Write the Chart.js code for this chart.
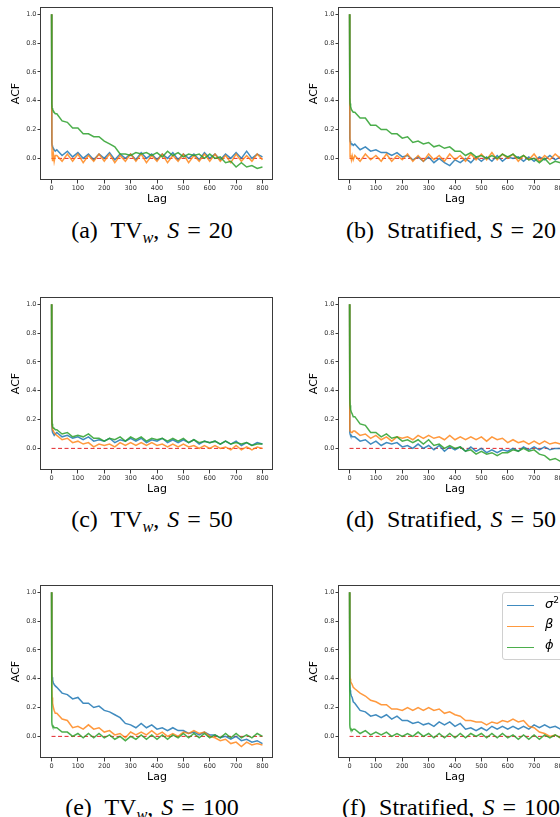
<!DOCTYPE html>
<html>
<head>
<meta charset="utf-8">
<script src="https://cdn.jsdelivr.net/npm/chart.js@4.4.0/dist/chart.umd.min.js"></script>
<style>
  html, body { margin: 0; padding: 0; background: #fff; width: 560px; height: 817px; overflow: hidden; }
  #figure { position: relative; width: 560px; height: 817px; overflow: hidden; }
  .panel { position: absolute; width: 280px; height: 215px; }
  .caption {
    position: absolute; width: 320px; margin-left: -160px; text-align: center;
    font-family: 'Liberation Serif', serif; font-size: 24px; line-height: 26px;
    color: #000; white-space: nowrap; word-spacing: 2px;
  }
  .caption .lbl { margin-right: 5px; }
  .caption sub { font-size: 0.68em; vertical-align: -0.3em; line-height: 0; }
  .legend {
    position: absolute; left: 502px; top: 592px; width: 70px; height: 66px;
    border: 1px solid #d0d0d0; border-radius: 3px; background: rgba(255,255,255,0.85);
    font-family: 'DejaVu Sans', sans-serif; font-style: italic; font-size: 13px;
  }
  .legend .row { position: absolute; left: 4px; height: 14px; width: 70px; }
  .legend .swatch { position: absolute; left: 0; top: 7px; width: 27px; height: 0; border-top: 1.4px solid; }
  .legend .label { position: absolute; left: 38px; top: -3px; }
</style>
</head>
<body>
<div id="figure"></div>
<script>
// ラグ (共通の横軸)
const lags = [0, 1, 2, 4, 7, 10, 14,
  20, 40, 60, 80, 100, 120, 140, 160, 180, 200, 220, 240, 260, 280, 300, 320, 340, 360, 380, 400,
  420, 440, 460, 480, 500, 520, 540, 560, 580, 600, 620, 640, 660, 680, 700, 720, 740, 760, 780, 800];

const xTicks = [0, 100, 200, 300, 400, 500, 600, 700, 800];
const yTicks = [0.0, 0.2, 0.4, 0.6, 0.8, 1.0];

// (a) TV_w, S = 20
const tvw20Sigma = [1.0, 0.11, 0.09, 0.08, 0.07, 0.06, 0.05,
  0.06, 0.02, 0.05, 0.01, 0.04, 0.0, 0.03, -0.01, 0.03, 0.0,
  0.04, -0.01, 0.03, 0.0, 0.03, -0.01, 0.04, 0.0, 0.03, -0.01,
  0.03, 0.0, 0.04, -0.01, 0.03, 0.0, 0.03, -0.01, 0.04, 0.0,
  0.03, -0.01, 0.03, 0.0, 0.04, 0.0, 0.05, 0.0, 0.03, 0.01];
const tvw20Beta = [1.0, 0.37, 0.02, -0.02, 0.03, -0.02, 0.02,
  0.02, -0.02, 0.03, -0.02, 0.03, -0.03, 0.02, -0.02, 0.03, -0.02,
  0.03, -0.03, 0.02, -0.02, 0.03, -0.02, 0.03, -0.03, 0.02, -0.02,
  0.03, -0.03, 0.02, -0.02, 0.03, -0.03, 0.02, -0.02, 0.03, -0.02,
  0.03, -0.02, 0.02, -0.03, 0.03, -0.02, 0.02, -0.02, 0.03, -0.01];
const tvw20Phi = [1.0, 0.38, 0.35, 0.34, 0.33, 0.32, 0.31,
  0.31, 0.26, 0.25, 0.21, 0.21, 0.17, 0.17, 0.15, 0.15, 0.12,
  0.10, 0.08, 0.03, 0.03, 0.02, 0.04, 0.03, 0.04, 0.02, 0.04,
  0.01, 0.05, 0.02, 0.04, 0.01, 0.03, 0.02, 0.03, 0.0, 0.03,
  0.0, 0.01, -0.03, -0.02, -0.06, -0.03, -0.06, -0.05, -0.07, -0.06];

// (b) Stratified, S = 20
const strat20Sigma = [1.0, 0.14, 0.12, 0.11, 0.10, 0.10, 0.09,
  0.10, 0.06, 0.08, 0.05, 0.06, 0.04, 0.04, 0.02, 0.04, 0.01,
  0.02, -0.01, 0.01, -0.02, 0.01, -0.03, 0.0, -0.03, -0.05, -0.01,
  -0.03, 0.0, -0.03, 0.01, -0.02, 0.01, -0.02, 0.02, -0.02, 0.01,
  0.0, 0.01, -0.02, 0.01, -0.02, 0.01, -0.01, 0.02, -0.01, 0.01];
const strat20Beta = [1.0, 0.40, 0.01, 0.02, -0.01, 0.02, -0.01,
  0.02, -0.02, 0.03, -0.01, 0.02, -0.02, 0.03, -0.02, 0.02, -0.01,
  0.03, -0.02, 0.02, -0.02, 0.03, -0.01, 0.02, -0.02, 0.03, -0.01,
  0.02, -0.02, 0.03, -0.01, 0.03, -0.01, 0.04, -0.01, 0.03, 0.0,
  0.03, -0.02, 0.02, -0.01, 0.03, -0.02, 0.02, -0.01, 0.03, 0.0];
const strat20Phi = [1.0, 0.42, 0.38, 0.36, 0.34, 0.33, 0.32,
  0.32, 0.28, 0.28, 0.23, 0.23, 0.20, 0.20, 0.17, 0.17, 0.14,
  0.15, 0.11, 0.12, 0.10, 0.11, 0.08, 0.09, 0.07, 0.08, 0.05,
  0.05, 0.02, 0.04, 0.01, 0.02, 0.0, 0.02, 0.0, 0.03, 0.01,
  0.03, 0.0, 0.02, -0.01, 0.0, -0.03, 0.0, -0.04, -0.02, -0.03];

// (c) TV_w, S = 50
const tvw50Sigma = [1.0, 0.18, 0.13, 0.11, 0.10, 0.09, 0.10,
  0.11, 0.08, 0.09, 0.07, 0.08, 0.06, 0.08, 0.05, 0.06, 0.05,
  0.07, 0.04, 0.06, 0.05, 0.07, 0.05, 0.07, 0.04, 0.06, 0.05,
  0.07, 0.04, 0.06, 0.04, 0.06, 0.04, 0.06, 0.03, 0.05, 0.04,
  0.05, 0.03, 0.05, 0.03, 0.05, 0.02, 0.04, 0.02, 0.04, 0.03];
const tvw50Beta = [1.0, 0.20, 0.15, 0.13, 0.12, 0.11, 0.10,
  0.09, 0.06, 0.07, 0.04, 0.05, 0.03, 0.04, 0.01, 0.03, 0.02,
  0.03, 0.01, 0.04, 0.02, 0.04, 0.02, 0.04, 0.02, 0.04, 0.02,
  0.03, 0.01, 0.03, 0.01, 0.03, 0.01, 0.02, 0.0, 0.02, 0.0,
  0.02, 0.0, 0.01, -0.01, 0.02, -0.01, 0.01, -0.01, 0.01, 0.0];
const tvw50Phi = [1.0, 0.22, 0.17, 0.15, 0.14, 0.14, 0.13,
  0.13, 0.10, 0.11, 0.08, 0.09, 0.08, 0.10, 0.07, 0.07, 0.05,
  0.07, 0.06, 0.08, 0.05, 0.08, 0.06, 0.08, 0.05, 0.07, 0.06,
  0.07, 0.05, 0.07, 0.05, 0.07, 0.04, 0.06, 0.04, 0.05, 0.04,
  0.05, 0.03, 0.05, 0.03, 0.04, 0.03, 0.04, 0.02, 0.03, 0.03];

// (d) Stratified, S = 50
const strat50Sigma = [1.0, 0.11, 0.10, 0.09, 0.09, 0.08, 0.08,
  0.08, 0.05, 0.06, 0.03, 0.05, 0.02, 0.04, 0.03, 0.04, 0.01,
  0.02, 0.0, 0.03, 0.0, 0.02, -0.01, 0.02, -0.02, 0.01, -0.01,
  0.01, -0.02, 0.01, -0.02, 0.0, -0.03, -0.01, -0.03, -0.01, -0.02,
  0.0, -0.02, 0.01, -0.01, 0.01, -0.01, 0.01, -0.01, 0.0, 0.0];
const strat50Beta = [1.0, 0.13, 0.12, 0.12, 0.11, 0.11, 0.12,
  0.12, 0.09, 0.10, 0.07, 0.09, 0.06, 0.08, 0.05, 0.08, 0.07,
  0.08, 0.06, 0.09, 0.07, 0.09, 0.07, 0.08, 0.06, 0.09, 0.06,
  0.08, 0.06, 0.08, 0.06, 0.08, 0.05, 0.08, 0.06, 0.07, 0.04,
  0.06, 0.04, 0.05, 0.03, 0.05, 0.03, 0.05, 0.03, 0.04, 0.03];
const strat50Phi = [1.0, 0.35, 0.30, 0.27, 0.25, 0.24, 0.22,
  0.22, 0.17, 0.16, 0.11, 0.11, 0.08, 0.10, 0.07, 0.08, 0.05,
  0.06, 0.04, 0.06, 0.03, 0.06, 0.02, 0.03, 0.0, 0.02, 0.0,
  0.01, -0.02, -0.01, -0.04, -0.02, -0.04, -0.03, -0.05, -0.03, -0.03,
  -0.01, -0.02, 0.0, -0.02, -0.01, -0.04, -0.05, -0.08, -0.07, -0.09];

// (e) TV_w, S = 100
const tvw100Sigma = [1.0, 0.44, 0.41, 0.39, 0.37, 0.36, 0.35,
  0.34, 0.30, 0.29, 0.26, 0.27, 0.23, 0.23, 0.20, 0.21, 0.18,
  0.17, 0.15, 0.13, 0.09, 0.08, 0.06, 0.09, 0.06, 0.08, 0.05,
  0.06, 0.04, 0.06, 0.04, 0.04, 0.02, 0.03, 0.01, 0.03, 0.01,
  0.01, -0.01, 0.0, -0.02, 0.0, -0.03, -0.02, -0.04, -0.03, -0.05];
const tvw100Beta = [1.0, 0.33, 0.27, 0.23, 0.20, 0.18, 0.16,
  0.16, 0.12, 0.11, 0.06, 0.07, 0.05, 0.08, 0.05, 0.06, 0.03,
  0.04, 0.01, 0.02, -0.01, 0.03, 0.01, 0.03, 0.01, 0.04, 0.01,
  0.03, 0.0, 0.02, 0.0, 0.03, 0.02, 0.04, 0.02, 0.03, 0.0,
  -0.01, -0.03, -0.02, -0.05, -0.04, -0.07, -0.04, -0.06, -0.05, -0.06];
const tvw100Phi = [1.0, 0.10, 0.08, 0.07, 0.07, 0.06, 0.06,
  0.06, 0.03, 0.03, 0.0, 0.02, -0.01, 0.02, -0.01, 0.02, -0.01,
  0.01, -0.02, 0.0, -0.03, 0.0, -0.02, 0.01, -0.02, 0.01, -0.02,
  0.01, -0.02, 0.01, -0.01, 0.02, -0.01, 0.02, -0.01, 0.02, -0.01,
  0.01, -0.01, 0.02, -0.01, 0.02, -0.01, 0.01, -0.01, 0.02, 0.0];

// (f) Stratified, S = 100
const strat100Sigma = [1.0, 0.36, 0.32, 0.30, 0.28, 0.27, 0.24,
  0.23, 0.18, 0.17, 0.14, 0.15, 0.13, 0.15, 0.12, 0.14, 0.11,
  0.11, 0.09, 0.10, 0.08, 0.09, 0.07, 0.10, 0.08, 0.10, 0.07,
  0.09, 0.05, 0.06, 0.04, 0.06, 0.04, 0.07, 0.05, 0.07, 0.05,
  0.07, 0.05, 0.07, 0.05, 0.08, 0.06, 0.08, 0.06, 0.07, 0.05];
const strat100Beta = [1.0, 0.43, 0.40, 0.38, 0.37, 0.36, 0.34,
  0.33, 0.30, 0.28, 0.25, 0.24, 0.22, 0.22, 0.19, 0.19, 0.18,
  0.20, 0.18, 0.20, 0.18, 0.20, 0.18, 0.19, 0.16, 0.17, 0.15,
  0.14, 0.11, 0.11, 0.10, 0.10, 0.08, 0.10, 0.09, 0.11, 0.10,
  0.12, 0.10, 0.11, 0.07, 0.06, 0.03, 0.02, 0.0, 0.01, -0.01];
const strat100Phi = [1.0, 0.08, 0.06, 0.05, 0.05, 0.04, 0.05,
  0.05, 0.02, 0.04, 0.01, 0.03, 0.01, 0.03, 0.0, 0.02, 0.0,
  0.02, 0.0, 0.03, 0.0, 0.02, -0.01, 0.02, -0.01, 0.02, -0.01,
  0.02, -0.01, 0.02, 0.0, 0.02, -0.01, 0.02, -0.01, 0.02, -0.01,
  0.01, -0.02, 0.01, -0.02, 0.01, -0.02, 0.01, -0.01, 0.01, -0.01];

// 色 (matplotlib tab10)
const COLORS = {
  sigma: 'rgba(31, 119, 180, 0.85)',
  beta: 'rgba(255, 127, 14, 0.8)',
  phi: 'rgba(44, 160, 44, 0.85)',
  zero: '#e3262b'
};

// プロット枠
const frameBox = {
  id: 'frameBox',
  afterDatasetsDraw(chart) {
    const { ctx, chartArea: a } = chart;
    ctx.save();
    ctx.strokeStyle = '#3a3a3a';
    ctx.lineWidth = 1;
    ctx.strokeRect(a.left - 0.5, a.top + 0.5, a.right - a.left, a.bottom - a.top - 1);
    ctx.restore();
  }
};

class AcfFigure {
  constructor(root) {
    this.root = root;
    this.panels = [
      { left: 0, top: 0, sigma: tvw20Sigma, beta: tvw20Beta, phi: tvw20Phi,
        cap: '<span class="lbl">(a)</span> TV<sub><i>w</i></sub>, <i>S</i> = 20', capX: 152, capY: 230 },
      { left: 298, top: 0, sigma: strat20Sigma, beta: strat20Beta, phi: strat20Phi,
        cap: '<span class="lbl">(b)</span> Stratified, <i>S</i> = 20', capX: 451, capY: 230 },
      { left: 0, top: 290, sigma: tvw50Sigma, beta: tvw50Beta, phi: tvw50Phi,
        cap: '<span class="lbl">(c)</span> TV<sub><i>w</i></sub>, <i>S</i> = 50', capX: 152, capY: 519 },
      { left: 298, top: 290, sigma: strat50Sigma, beta: strat50Beta, phi: strat50Phi,
        cap: '<span class="lbl">(d)</span> Stratified, <i>S</i> = 50', capX: 451, capY: 519 },
      { left: 0, top: 578, sigma: tvw100Sigma, beta: tvw100Beta, phi: tvw100Phi,
        cap: '<span class="lbl">(e)</span> TV<sub><i>w</i></sub>, <i>S</i> = 100', capX: 152, capY: 807 },
      { left: 298, top: 578, sigma: strat100Sigma, beta: strat100Beta, phi: strat100Phi,
        cap: '<span class="lbl">(f)</span> Stratified, <i>S</i> = 100', capX: 451, capY: 807 }
    ];
    this.panels.forEach(p => this.drawPanel(p));
    this.drawLegend();
  }

  series(values) {
    return lags.map((lag, i) => ({ x: lag, y: values[i] }));
  }

  drawPanel(p) {
    const canvas = document.createElement('canvas');
    canvas.className = 'panel';
    canvas.width = 280;
    canvas.height = 215;
    canvas.style.left = p.left + 'px';
    canvas.style.top = p.top + 'px';
    this.root.appendChild(canvas);

    const line = (data, color, order) => ({
      data, borderColor: color, borderWidth: 1.5, pointRadius: 0, tension: 0, order
    });

    new Chart(canvas.getContext('2d'), {
      type: 'line',
      data: {
        datasets: [
          line(this.series(p.phi), COLORS.phi, 1),
          line(this.series(p.beta), COLORS.beta, 2),
          line(this.series(p.sigma), COLORS.sigma, 3),
          { data: [{ x: 0, y: 0 }, { x: 800, y: 0 }], borderColor: COLORS.zero, borderWidth: 1,
            borderDash: [4, 2.5], pointRadius: 0, order: 4 }
        ]
      },
      options: {
        responsive: false,
        animation: false,
        layout: { padding: { top: 7, right: 7, left: 0, bottom: 0 } },
        plugins: { legend: { display: false }, tooltip: { enabled: false } },
        scales: {
          x: {
            type: 'linear', min: -40, max: 840,
            afterBuildTicks: s => { s.ticks = xTicks.map(v => ({ value: v })); },
            afterFit: s => { s.height = 35; },
            ticks: { autoSkip: false, maxRotation: 0, padding: 1, color: '#333',
              font: { family: 'DejaVu Sans', size: 6.5 }, callback: v => String(v) },
            grid: { drawOnChartArea: false, drawTicks: true, tickLength: 3.5, tickColor: '#3a3a3a' },
            border: { display: false },
            title: { display: true, text: 'Lag', color: '#000',
              font: { family: 'DejaVu Sans', size: 11 }, padding: { top: 0, bottom: 9 } }
          },
          y: {
            type: 'linear', min: -0.15, max: 1.05,
            afterBuildTicks: s => { s.ticks = yTicks.map(v => ({ value: v })); },
            afterFit: s => { s.width = 41; },
            ticks: { padding: 1, color: '#333',
              font: { family: 'DejaVu Sans', size: 6.5 }, callback: v => v.toFixed(1) },
            grid: { drawOnChartArea: false, drawTicks: true, tickLength: 3.5, tickColor: '#3a3a3a' },
            border: { display: false },
            title: { display: true, text: 'ACF', color: '#000',
              font: { family: 'DejaVu Sans', size: 11 }, padding: { top: 10, bottom: 0 } }
          }
        }
      },
      plugins: [frameBox]
    });

    const cap = document.createElement('div');
    cap.className = 'caption';
    cap.innerHTML = p.cap;
    cap.style.left = p.capX + 'px';
    cap.style.top = (p.capY - 13) + 'px';
    this.root.appendChild(cap);
  }

  drawLegend() {
    // 凡例は (f) のみ
    const box = document.createElement('div');
    box.className = 'legend';
    const items = [
      { color: COLORS.sigma, label: 'σ<sup style="font-size:0.7em;font-style:normal">2</sup>' },
      { color: COLORS.beta, label: 'β' },
      { color: COLORS.phi, label: 'ϕ' }
    ];
    items.forEach((it, i) => {
      const row = document.createElement('div');
      row.className = 'row';
      row.style.top = (5 + i * 21) + 'px';
      row.innerHTML = `<div class="swatch" style="border-color:${it.color}"></div><div class="label">${it.label}</div>`;
      box.appendChild(row);
    });
    this.root.appendChild(box);
  }
}

document.addEventListener('DOMContentLoaded', () => {
  new AcfFigure(document.getElementById('figure'));
});
</script>
</body>
</html>
